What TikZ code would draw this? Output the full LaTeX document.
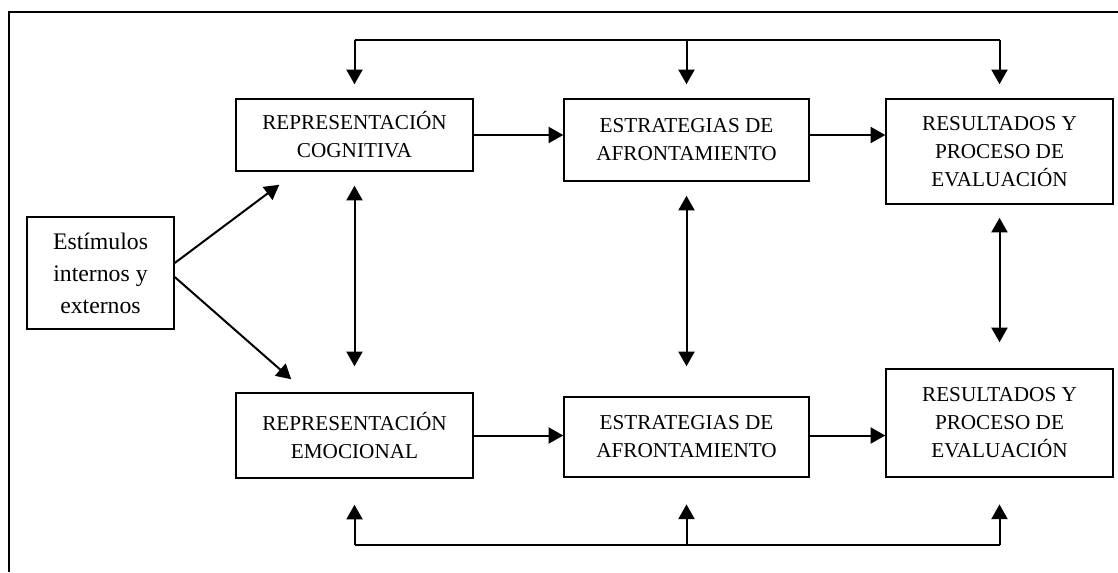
\documentclass[tikz,border=0pt]{standalone}
\usepackage{fontspec}
\setmainfont{Liberation Serif}
\usetikzlibrary{arrows.meta}
\begin{document}
\begin{tikzpicture}[x=0.75pt,y=-0.75pt,
    box/.style={draw,line width=1.1pt,inner sep=0pt,align=center,
      font=\fontsize{15.9}{21}\selectfont},
    stimbox/.style={box,font=\fontsize{17.8}{24}\selectfont},
    conn/.style={line width=1.5pt,-{Triangle[length=11pt,width=12pt]}},
    biconn/.style={line width=1.5pt,{Triangle[length=11pt,width=12pt]}-{Triangle[length=11pt,width=12pt]}}]
  \useasboundingbox (0,0) rectangle (1118,572);
  \draw[line width=1.1pt] (1118,12) -- (9,12) -- (9,572);
  \draw
    (100.5,273) node[stimbox,minimum width=110.25pt,minimum height=84pt] (stim){Estímulos\\internos y\\externos}
    (354.5,135) node[box,minimum width=177.75pt,minimum height=54pt] (rc){REPRESENTACIÓN\\COGNITIVA}
    (686.5,140) node[box,minimum width=183.75pt,minimum height=61.5pt] (es1){ESTRATEGIAS DE\\AFRONTAMIENTO}
    (999.5,151.5) node[box,minimum width=170.25pt,minimum height=78.75pt] (res1){RESULTADOS Y\\PROCESO DE\\EVALUACIÓN}
    (354.5,435.5) node[box,minimum width=177.75pt,minimum height=63.75pt] (re){REPRESENTACIÓN\\EMOCIONAL}
    (686.5,437) node[box,minimum width=183.75pt,minimum height=60pt] (es2){ESTRATEGIAS DE\\AFRONTAMIENTO}
    (999.5,423) node[box,minimum width=170.25pt,minimum height=81pt] (res2){RESULTADOS Y\\PROCESO DE\\EVALUACIÓN};
  \coordinate (bustop) at (0,40);
  \coordinate (busbot) at (0,545);
  \begin{scope}[conn]
    \draw ([shift={(0,-10)}]stim.east) -- ([shift={(44,13)}]rc.south west);
    \draw ([shift={(0,4)}]stim.east) -- ([shift={(56,-13)}]re.north west);
    \draw (rc.east) -- (rc.east -| es1.west);
    \draw (es1.east |- rc.east) -- (res1.west |- rc.east);
    \draw (re.east) -- (re.east -| es2.west);
    \draw (es2.east |- re.east) -- (res2.west |- re.east);
    \draw[-] (bustop -| rc.north) -- (bustop -| res1.north);
    \draw[shorten >=10.5pt] (bustop -| rc.north) -- (rc.north);
    \draw[shorten >=10.5pt] (bustop -| es1.north) -- (es1.north);
    \draw[shorten >=10.5pt] (bustop -| res1.north) -- (res1.north);
    \draw[-] (busbot -| re.south) -- (busbot -| res2.south);
    \draw[shorten >=19.5pt] (busbot -| re.south) -- (re.south);
    \draw[shorten >=20pt] (busbot -| es2.south) -- (es2.south);
    \draw[shorten >=20pt] (busbot -| res2.south) -- (res2.south);
  \end{scope}
  \begin{scope}[biconn]
    \draw[shorten <=10.5pt, shorten >=19.5pt] (rc.south) -- (re.north);
    \draw[shorten <=10.5pt, shorten >=22.5pt] (es1.south) -- (es2.north);
    \draw[shorten <=9.75pt, shorten >=19.5pt] (res1.south) -- (res2.north);
  \end{scope}
\end{tikzpicture}
\end{document}
